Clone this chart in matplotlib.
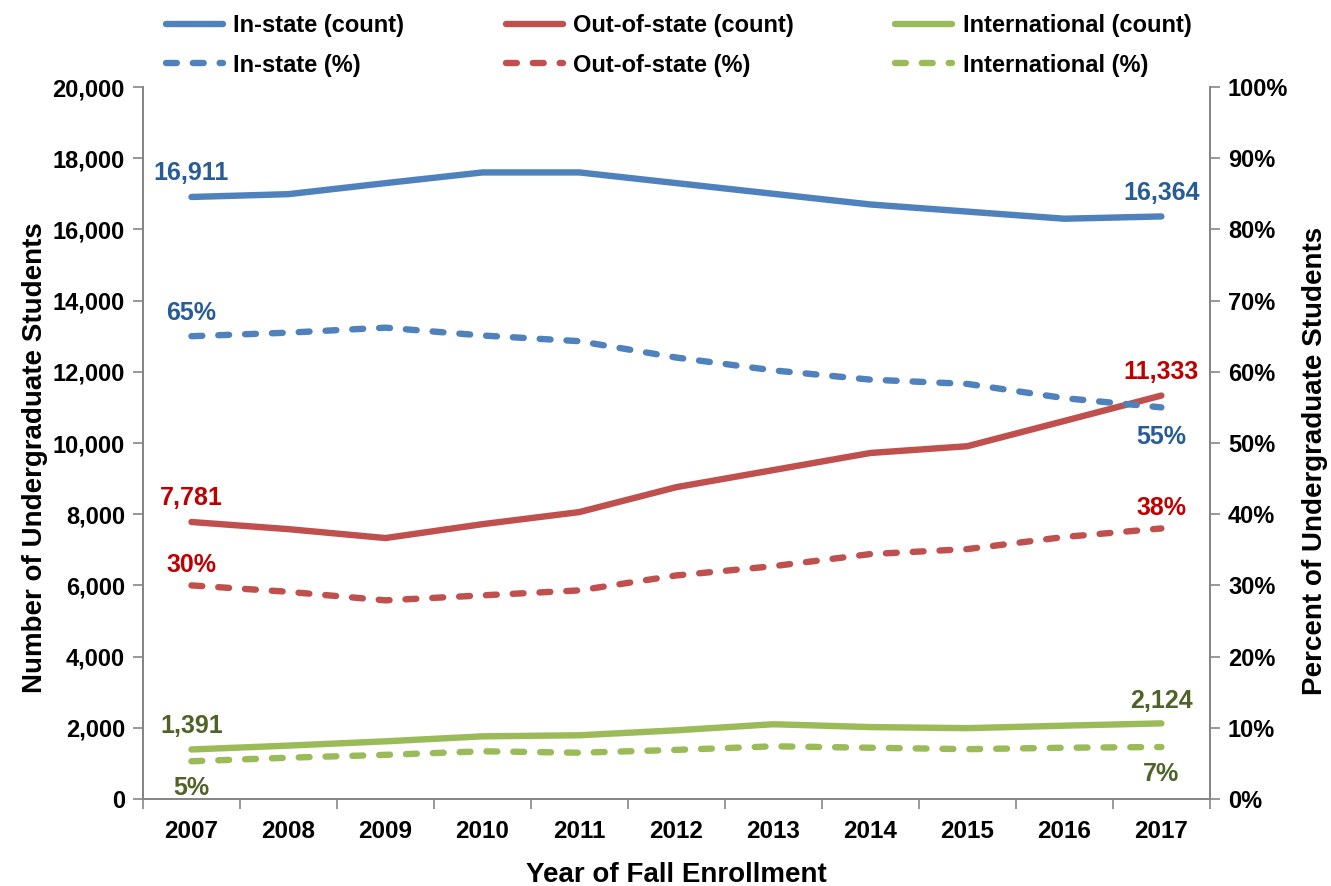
import matplotlib
matplotlib.use("Agg")
import matplotlib.pyplot as plt
from matplotlib.ticker import FuncFormatter, FixedLocator, NullFormatter

plt.rcParams['font.family'] = ['Liberation Sans', 'DejaVu Sans']
plt.rcParams['font.weight'] = 'bold'

years = [2007, 2008, 2009, 2010, 2011, 2012, 2013, 2014, 2015, 2016, 2017]
instate_count = [16911, 16990, 17300, 17600, 17600, 17300, 17000, 16700, 16500, 16300, 16364]
outstate_count = [7781, 7580, 7330, 7720, 8060, 8760, 9240, 9720, 9910, 10620, 11333]
intl_count = [1391, 1500, 1620, 1760, 1790, 1930, 2100, 2020, 1990, 2060, 2124]
instate_pct = [65.0, 65.5, 66.2, 65.1, 64.3, 62.0, 60.2, 58.9, 58.3, 56.3, 55.0]
outstate_pct = [30.0, 29.1, 27.9, 28.6, 29.3, 31.4, 32.7, 34.4, 35.1, 36.8, 38.0]
intl_pct = [5.3, 5.8, 6.2, 6.7, 6.5, 6.9, 7.4, 7.2, 7.0, 7.2, 7.3]

BLUE = '#4F81BD'
RED = '#C0504D'
GREEN = '#9BBB59'
BLUE_T = '#285C96'
RED_T = '#C00000'
GREEN_T = '#4F6228'
GRAY = '#868686'

fig = plt.figure(figsize=(13.31, 8.86), dpi=100)
ax = fig.add_axes([0.1074, 0.0982, 0.8016, 0.8036])
ax2 = ax.twinx()

x = list(range(len(years)))
lw = 4.6
l1, = ax.plot(x, instate_count, color=BLUE, lw=lw, solid_capstyle='round', label='In-state (count)')
l2, = ax.plot(x, outstate_count, color=RED, lw=lw, solid_capstyle='round', label='Out-of-state (count)')
l3, = ax.plot(x, intl_count, color=GREEN, lw=lw, solid_capstyle='round', label='International (count)')
ds = (0, (1.7, 2.5))
d1, = ax2.plot(x, instate_pct, color=BLUE, lw=lw, ls=ds, dash_capstyle='round', label='In-state (%)')
d2, = ax2.plot(x, outstate_pct, color=RED, lw=lw, ls=ds, dash_capstyle='round', label='Out-of-state (%)')
d3, = ax2.plot(x, intl_pct, color=GREEN, lw=lw, ls=ds, dash_capstyle='round', label='International (%)')

ax.set_xlim(-0.5, len(years) - 0.5)
ax.set_ylim(0, 20000)
ax2.set_ylim(0, 100)
ax.set_yticks(range(0, 20001, 2000))
ax.yaxis.set_major_formatter(FuncFormatter(lambda v, p: f'{int(v):,}'))
ax2.set_yticks(range(0, 101, 10))
ax2.yaxis.set_major_formatter(FuncFormatter(lambda v, p: f'{int(v)}%'))

tfs = 17
ax.set_xticks(x)
ax.set_xticklabels([str(y) for y in years])
ax.tick_params(axis='x', which='major', length=0, pad=15, labelsize=17.5)
ax.xaxis.set_minor_locator(FixedLocator([i - 0.5 for i in range(len(years) + 1)]))
ax.xaxis.set_minor_formatter(NullFormatter())
ax.tick_params(axis='x', which='minor', length=7, width=1.2, color=GRAY, direction='out')
ax.tick_params(axis='y', length=7, width=1.2, color=GRAY, direction='out', labelsize=tfs, pad=6)
ax2.tick_params(axis='y', length=7, width=1.2, color=GRAY, direction='out', labelsize=tfs, pad=6)

for a in (ax, ax2):
    a.spines['top'].set_visible(False)
    for s in ('left', 'right', 'bottom'):
        a.spines[s].set_color(GRAY)
        a.spines[s].set_linewidth(1.4)

ax.set_xlabel('Year of Fall Enrollment', fontsize=20, fontweight='bold', labelpad=14)
ax.set_ylabel('Number of Undergraduate Students', fontsize=20, fontweight='bold', labelpad=3)
ax2.set_ylabel('Percent of Undergraduate Students', fontsize=20, fontweight='bold', labelpad=10)
ax.yaxis.label.set_y(0.48)
ax2.yaxis.label.set_y(0.475)

fs = 18
def ann(axis, xi, yv, txt, col, dy):
    axis.annotate(txt, (xi, yv), xytext=(0, dy), textcoords='offset points',
                  ha='center', va='center', fontsize=fs, fontweight='bold', color=col)

ann(ax, 0, instate_count[0], f'{instate_count[0]:,}', BLUE_T, 17)
ann(ax, 10, instate_count[-1], f'{instate_count[-1]:,}', BLUE_T, 17)
ann(ax2, 0, instate_pct[0], f'{instate_pct[0]:.0f}%', BLUE_T, 17)
ann(ax2, 10, instate_pct[-1], f'{instate_pct[-1]:.0f}%', BLUE_T, -21)
ann(ax, 0, outstate_count[0], f'{outstate_count[0]:,}', RED_T, 17)
ann(ax, 10, outstate_count[-1], f'{outstate_count[-1]:,}', RED_T, 17)
ann(ax2, 0, outstate_pct[0], f'{outstate_pct[0]:.0f}%', RED_T, 15)
ann(ax2, 10, outstate_pct[-1], f'{outstate_pct[-1]:.0f}%', RED_T, 15)
ann(ax, 0, intl_count[0], f'{intl_count[0]:,}', GREEN_T, 17)
ann(ax, 10, intl_count[-1], f'{intl_count[-1]:,}', GREEN_T, 16)
ann(ax2, 0, intl_pct[0], f'{round(intl_pct[0]):.0f}%', GREEN_T, -19)
ann(ax2, 10, intl_pct[-1], f'{round(intl_pct[-1]):.0f}%', GREEN_T, -19.5)

handles = [l1, d1, l2, d2, l3, d3]
leg = fig.legend(handles=handles, labels=[h.get_label() for h in handles], ncol=3,
                 loc='upper center', bbox_to_anchor=(0.510, 1.008), frameon=False,
                 prop={'size': 17, 'weight': 'bold'}, handlelength=2.4,
                 columnspacing=4.3, labelspacing=0.7, handletextpad=0.45)

fig.savefig('out.png', dpi=100, facecolor='white')
